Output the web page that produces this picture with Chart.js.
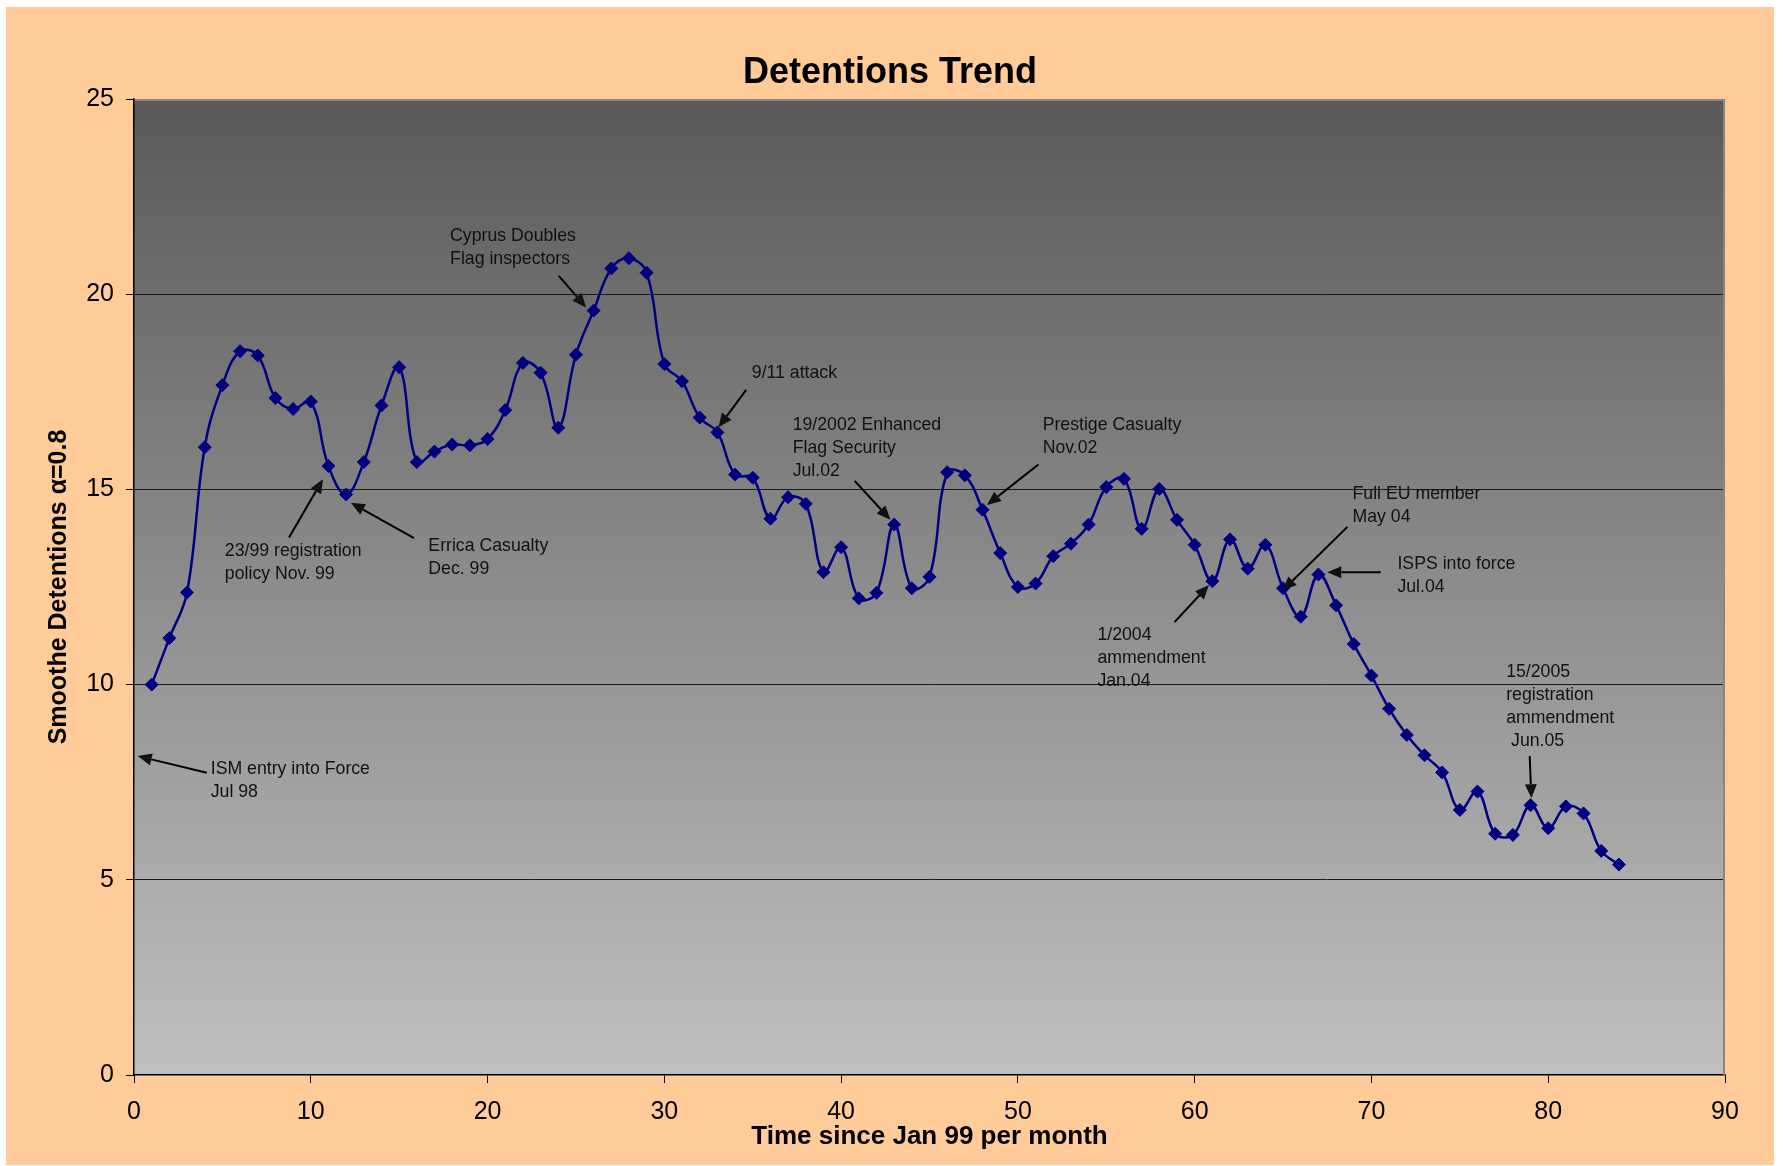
<!DOCTYPE html>
<html>
<head>
<meta charset="utf-8">
<title>Detentions Trend</title>
<script src="https://cdn.jsdelivr.net/npm/chart.js@4/dist/chart.umd.min.js"></script>
<style>
  html, body { margin: 0; padding: 0; background: #ffffff; }
  #frame { position: absolute; left: 6px; top: 7px; width: 1768px; height: 1158px; background: #FFCC99; }
</style>
</head>
<body>
<div id="frame"><canvas id="trend"></canvas></div>
<script>
// Months since Jan 99
const months = [
  1, 2, 3, 4, 5, 6, 7, 8, 9, 10, 11, 12, 13, 14, 15, 16, 17, 18, 19, 20,
  21, 22, 23, 24, 25, 26, 27, 28, 29, 30, 31, 32, 33, 34, 35, 36, 37, 38, 39, 40,
  41, 42, 43, 44, 45, 46, 47, 48, 49, 50, 51, 52, 53, 54, 55, 56, 57, 58, 59, 60,
  61, 62, 63, 64, 65, 66, 67, 68, 69, 70, 71, 72, 73, 74, 75, 76, 77, 78, 79, 80,
  81, 82, 83, 84
];

// Exponentially smoothed detentions (alpha = 0.8)
const detentions = [
  10.00, 11.19, 12.36, 16.08, 17.67, 18.54, 18.43, 17.34, 17.06, 17.25,
  15.60, 14.87, 15.70, 17.15, 18.13, 15.70, 15.97, 16.15, 16.13, 16.29,
  17.03, 18.24, 17.99, 16.58, 18.45, 19.58, 20.66, 20.92, 20.55, 18.21,
  17.77, 16.84, 16.46, 15.38, 15.30, 14.25, 14.80, 14.63, 12.88, 13.52,
  12.21, 12.35, 14.10, 12.47, 12.76, 15.44, 15.36, 14.48, 13.37, 12.50,
  12.59, 13.29, 13.61, 14.10, 15.06, 15.27, 13.99, 15.01, 14.22, 13.58,
  12.65, 13.72, 12.97, 13.58, 12.47, 11.74, 12.82, 12.03, 11.04, 10.23,
  9.38, 8.71, 8.19, 7.75, 6.79, 7.26, 6.18, 6.15, 6.91, 6.32,
  6.88, 6.70, 5.74, 5.39
];

const xTickValues = [0, 10, 20, 30, 40, 50, 60, 70, 80, 90];
const yTickValues = [0, 5, 10, 15, 20, 25];

// Event call-outs: text block anchored at its first line (month, value),
// arrow drawn from tail to tip, both in data units.
const eventNotes = [
  { lines: ['ISM entry into Force', 'Jul 98'], text: [4.34, 7.84], tail: [4.12, 7.74], tip: [0.21, 8.17] },
  { lines: ['23/99 registration', 'policy Nov. 99'], text: [5.14, 13.42], tail: [8.77, 13.77], tip: [10.69, 15.26] },
  { lines: ['Errica Casualty', 'Dec. 99'], text: [16.65, 13.55], tail: [15.84, 13.75], tip: [12.27, 14.66] },
  { lines: ['Cyprus Doubles', 'Flag inspectors'], text: [17.88, 21.49], tail: [24.03, 20.47], tip: [25.58, 19.66] },
  { lines: ['9/11 attack'], text: [34.95, 17.97], tail: [34.63, 17.55], tip: [33.06, 16.59] },
  { lines: ['19/2002 Enhanced', 'Flag Security', 'Jul.02'], text: [37.26, 16.64], tail: [40.77, 15.22], tip: [42.79, 14.22] },
  { lines: ['Prestige Casualty', 'Nov.02'], text: [51.40, 16.64], tail: [51.16, 15.64], tip: [48.25, 14.60] },
  { lines: ['1/2004', 'ammendment', 'Jan.04'], text: [54.50, 11.26], tail: [58.86, 11.60], tip: [60.81, 12.55] },
  { lines: ['Full EU member', 'May 04'], text: [68.93, 14.87], tail: [68.64, 14.04], tip: [64.97, 12.41] },
  { lines: ['ISPS into force', 'Jul.04'], text: [71.47, 13.09], tail: [70.52, 12.88], tip: [67.50, 12.88] },
  { lines: ['15/2005', 'registration', 'ammendment', ' Jun.05'], text: [77.62, 10.32], tail: [78.95, 8.17], tip: [79.05, 7.09] }
];

const FONT = '"Liberation Sans", Arial, Helvetica, sans-serif';
Chart.defaults.font.family = FONT;
Chart.defaults.color = '#000000';

const points = months.map((m, i) => ({ x: m, y: detentions[i] }));

// Grey gradient plot area plus its light frame on the top and right.
const plotBackdrop = {
  id: 'plotBackdrop',
  beforeDraw(chart) {
    const { ctx, chartArea: a } = chart;
    const g = ctx.createLinearGradient(0, a.top, 0, a.bottom);
    g.addColorStop(0, '#595959');
    g.addColorStop(1, '#c0c0c0');
    ctx.save();
    ctx.fillStyle = g;
    ctx.fillRect(a.left, a.top, a.right - a.left, a.bottom - a.top);
    ctx.restore();
  },
  beforeDatasetsDraw(chart) {
    const { ctx, chartArea: a } = chart;
    ctx.save();
    ctx.strokeStyle = '#858585';
    ctx.lineWidth = 2;
    ctx.beginPath();
    ctx.moveTo(a.left + 1, a.top + 1);
    ctx.lineTo(a.right - 1, a.top + 1);
    ctx.lineTo(a.right - 1, a.bottom);
    ctx.stroke();
    ctx.restore();
  }
};

function drawArrow(ctx, x0, y0, x1, y1) {
  const ang = Math.atan2(y1 - y0, x1 - x0);
  const headLen = 14, headHalf = 6;
  const bx = x1 - headLen * Math.cos(ang), by = y1 - headLen * Math.sin(ang);
  ctx.beginPath();
  ctx.moveTo(x0, y0);
  ctx.lineTo(bx, by);
  ctx.stroke();
  ctx.beginPath();
  ctx.moveTo(x1, y1);
  ctx.lineTo(bx + headHalf * Math.sin(ang), by - headHalf * Math.cos(ang));
  ctx.lineTo(bx - headHalf * Math.sin(ang), by + headHalf * Math.cos(ang));
  ctx.closePath();
  ctx.fill();
}

// Event labels and arrows, placed through the chart's scales.
const eventCallouts = {
  id: 'eventCallouts',
  afterDatasetsDraw(chart) {
    const { ctx, scales: { x, y } } = chart;
    const lineGap = 23;
    ctx.save();
    ctx.font = '17.7px ' + FONT;
    ctx.fillStyle = '#111111';
    ctx.strokeStyle = '#000000';
    ctx.lineWidth = 2;
    ctx.textAlign = 'left';
    ctx.textBaseline = 'middle';
    for (const n of eventNotes) {
      const tx = x.getPixelForValue(n.text[0]);
      const ty = y.getPixelForValue(n.text[1]);
      n.lines.forEach((s, i) => ctx.fillText(s, tx, ty + i * lineGap));
      drawArrow(ctx,
        x.getPixelForValue(n.tail[0]), y.getPixelForValue(n.tail[1]),
        x.getPixelForValue(n.tip[0]), y.getPixelForValue(n.tip[1]));
    }
    ctx.restore();
  }
};

new Chart(document.getElementById('trend'), {
  type: 'line',
  data: {
    datasets: [{
      label: 'Smoothe Detentions',
      data: points,
      borderColor: '#000080',
      borderWidth: 2.5,
      backgroundColor: '#000080',
      pointStyle: 'rectRot',
      pointRadius: 6.5,
      pointBorderWidth: 1,
      pointBackgroundColor: '#000080',
      pointBorderColor: '#000080',
      tension: 0.4,
      fill: false
    }]
  },
  options: {
    responsive: true,
    maintainAspectRatio: false,
    animation: false,
    events: [],
    layout: { padding: 0 },
    plugins: {
      legend: { display: false },
      tooltip: { enabled: false },
      title: {
        display: true,
        text: 'Detentions Trend',
        font: { size: 36, weight: 'bold' },
        color: '#000000',
        padding: { top: 44.5, bottom: 4.3 }
      }
    },
    scales: {
      x: {
        type: 'linear',
        position: 'bottom',
        min: 0,
        max: 90,
        afterBuildTicks(scale) { scale.ticks = xTickValues.map(v => ({ value: v })); },
        afterFit(scale) { scale.height = 90; },
        ticks: { font: { size: 25 }, color: '#000000', padding: 14, maxRotation: 0 },
        grid: { drawOnChartArea: false, drawTicks: true, tickLength: 8, tickColor: '#000000' },
        border: { display: true, color: '#000000', width: 1.5 },
        title: {
          display: true,
          text: 'Time since Jan 99 per month',
          font: { size: 26, weight: 'bold' },
          color: '#000000',
          padding: { top: 0, bottom: 13 }
        }
      },
      y: {
        min: 0,
        max: 25,
        afterBuildTicks(scale) { scale.ticks = yTickValues.map(v => ({ value: v })); },
        afterFit(scale) { scale.width = 128; },
        ticks: { font: { size: 25 }, color: '#000000', padding: 12 },
        grid: {
          color: c => (c.tick && (c.tick.value === 0 || c.tick.value === 25)) ? 'rgba(0,0,0,0)' : '#1a1a1a',
          lineWidth: 1,
          drawTicks: true,
          tickLength: 8,
          tickColor: '#000000'
        },
        border: { display: true, color: '#000000', width: 1.5 },
        title: {
          display: true,
          text: 'Smoothe Detentions α=0.8',
          font: { size: 25, weight: 'bold' },
          color: '#000000',
          padding: { top: 38, bottom: 0 }
        }
      },
      // Empty right-hand margin so the plot area stops short of the frame
      rightMargin: {
        position: 'right',
        display: true,
        afterFit(scale) { scale.width = 49; },
        ticks: { display: false },
        grid: { display: false, drawTicks: false },
        border: { display: false },
        title: { display: false }
      }
    }
  },
  plugins: [plotBackdrop, eventCallouts]
});
</script>
</body>
</html>
